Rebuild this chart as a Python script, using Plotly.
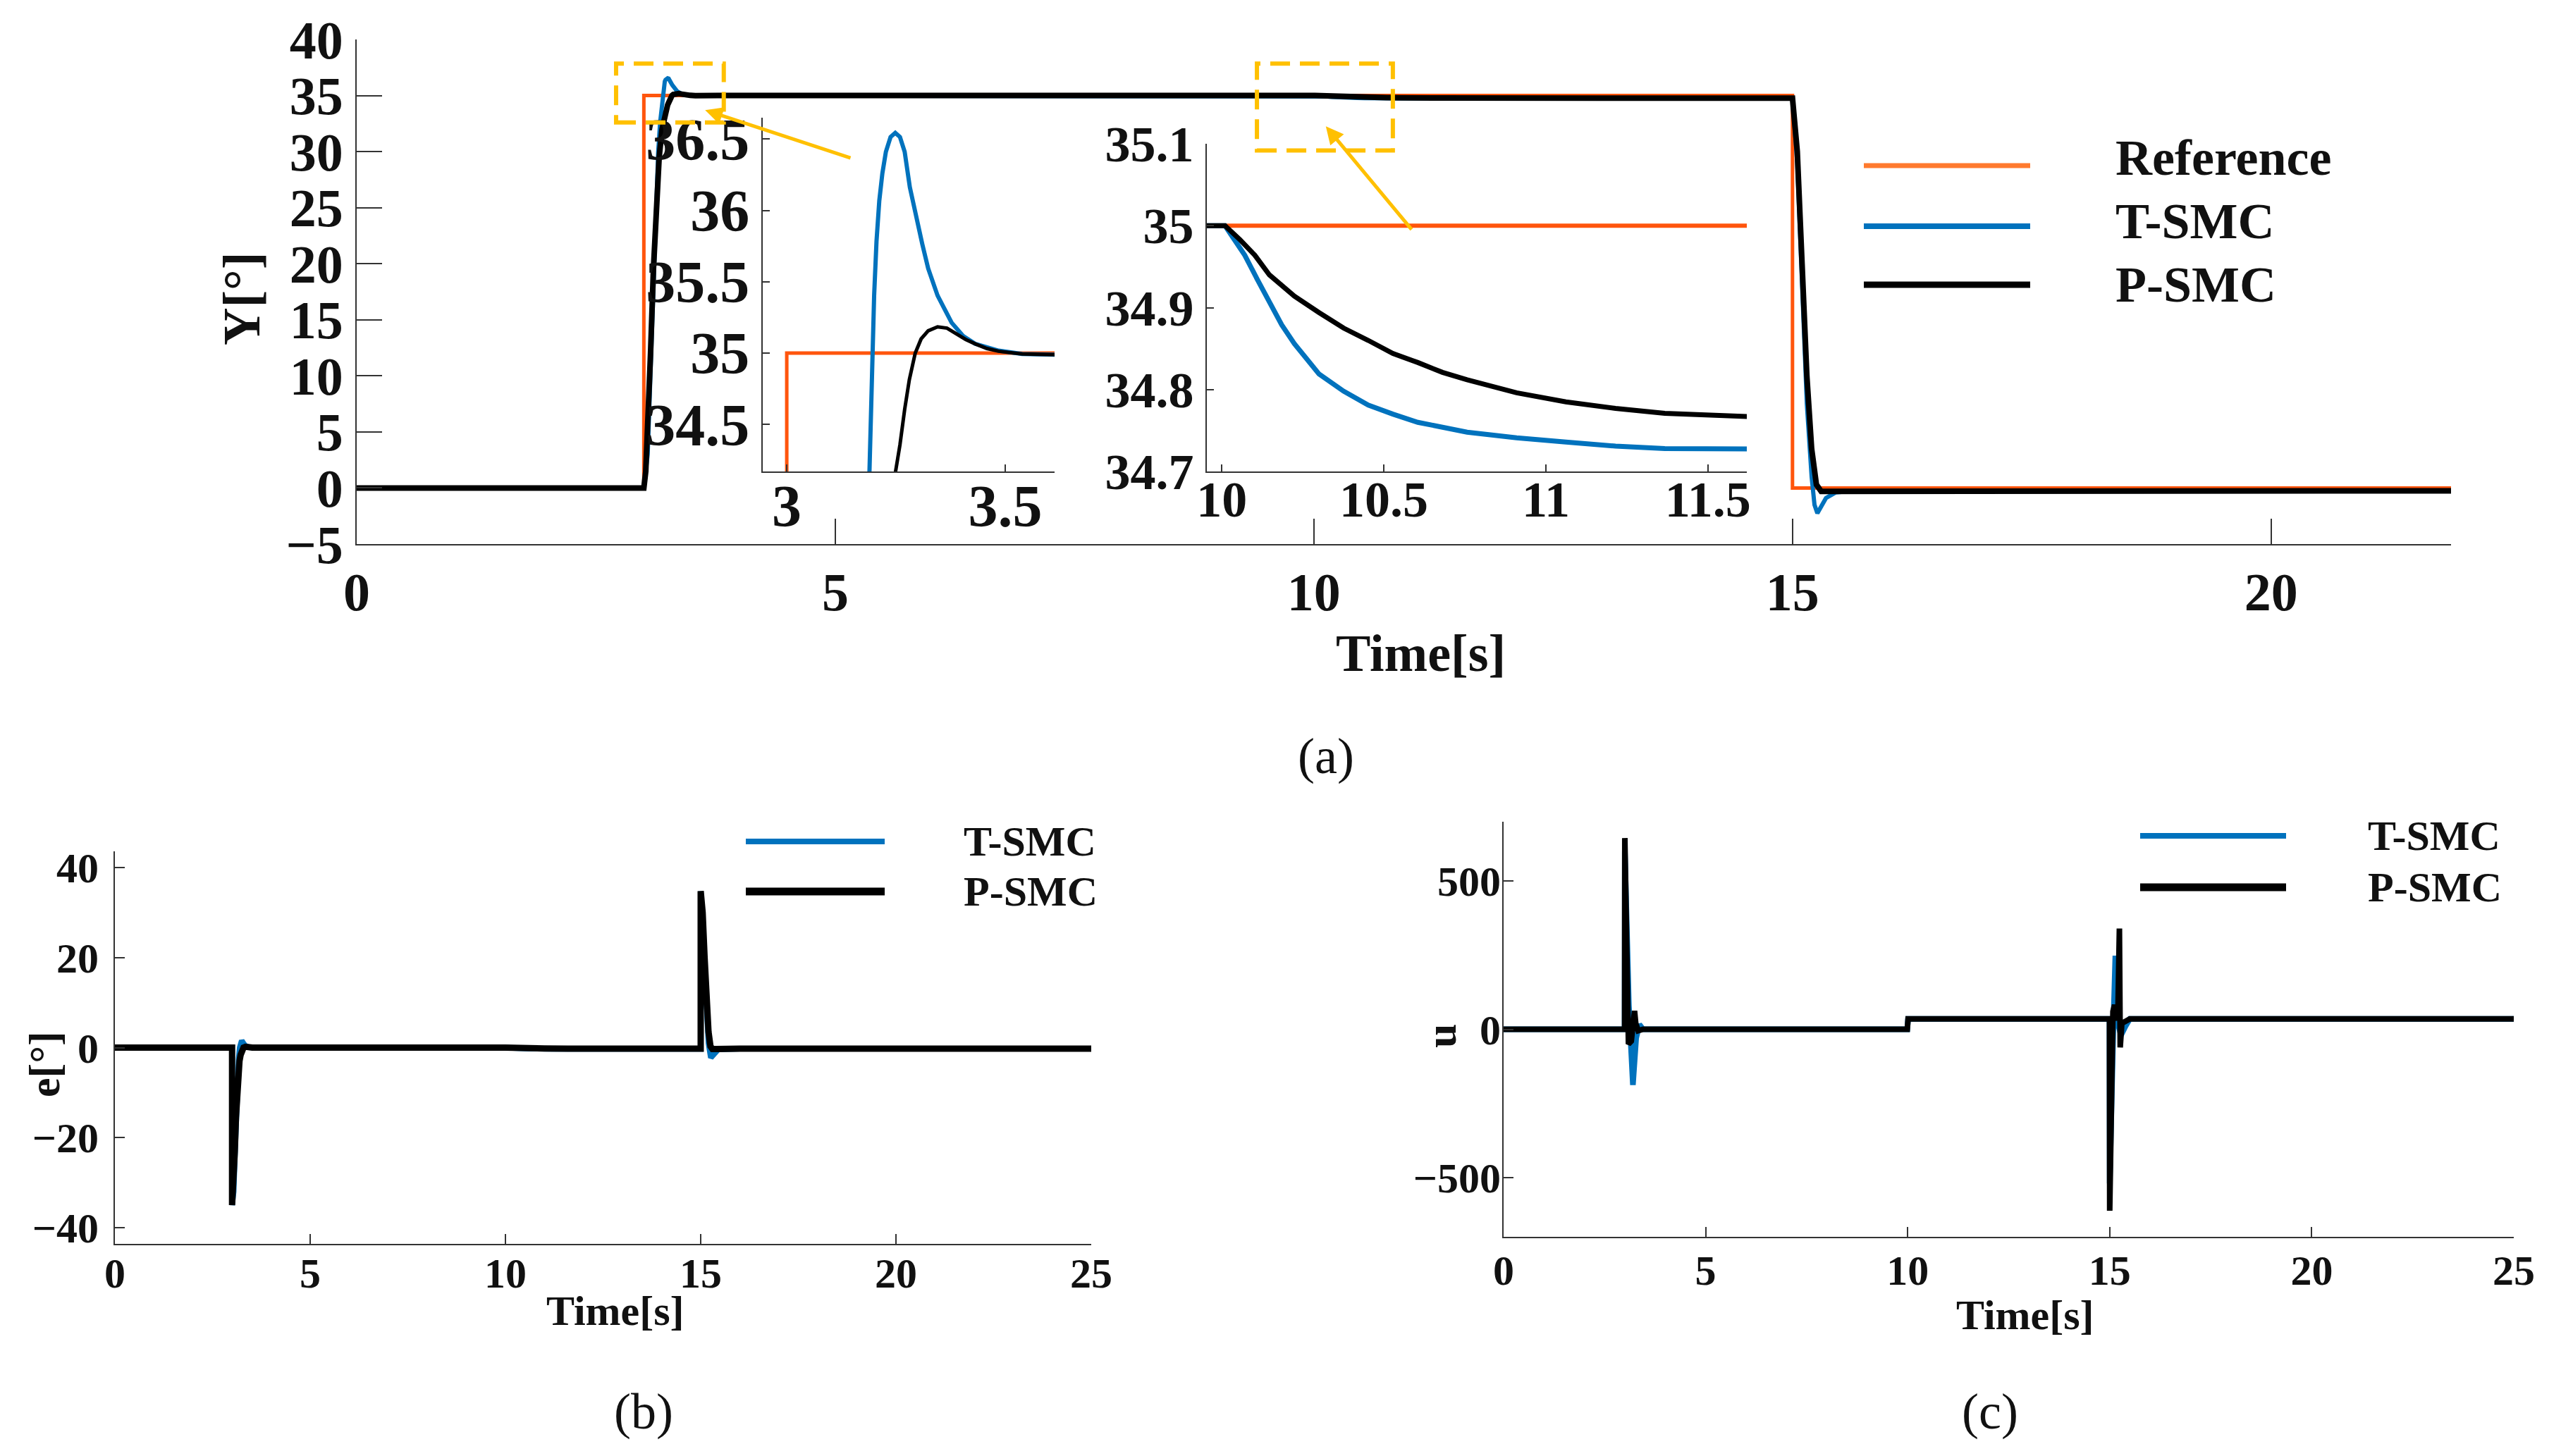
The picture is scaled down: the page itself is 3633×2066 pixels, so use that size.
import plotly.graph_objects as go

# step response Y[deg] (panel a)
t_ref = [0, 3, 3, 15, 15, 25]
y_ref = [0, 0, 35, 35, 0, 0]

t_tsmc = [0, 3.0, 3.04, 3.08, 3.12, 3.15, 3.17, 3.1892, 3.1935, 3.1962, 3.2, 3.2054, 3.2118,
          3.2188, 3.2269, 3.2376, 3.2484, 3.2591, 3.2699, 3.2817, 3.2968, 3.3102, 3.3237, 3.3452,
          3.3613, 3.3774, 3.4043, 3.4312, 3.4849, 3.5387, 3.6129, 4.0, 10.01, 10.04, 10.071,
          10.109, 10.147, 10.185, 10.224, 10.262, 10.30, 10.376, 10.452, 10.528, 10.605, 10.757,
          10.91, 11.062, 11.215, 11.367, 11.62, 13.0, 15.0, 15.05, 15.1, 15.15, 15.2, 15.23,
          15.26, 15.3, 15.35, 15.45, 15.6, 16.0, 25.0]
y_tsmc = [0, 0, 3, 13, 24, 30, 32.6, 34.158, 34.643, 35.023, 35.403, 35.783, 36.068,
          36.259, 36.411, 36.515, 36.544, 36.515, 36.411, 36.163, 35.935, 35.764, 35.593, 35.403,
          35.308, 35.213, 35.118, 35.065, 35.017, 34.994, 34.989, 35.0, 35.0, 34.983, 34.964,
          34.935, 34.906, 34.879, 34.856, 34.837, 34.819, 34.798, 34.781, 34.770, 34.760, 34.748,
          34.741, 34.736, 34.731, 34.728, 34.726, 34.72, 34.72, 29, 18, 7.5, 1.0, -1.5,
          -2.25, -1.7, -0.9, -0.4, -0.28, -0.25, -0.25]

t_psmc = [0, 3.0, 3.02, 3.04, 3.07, 3.10, 3.13, 3.16, 3.19, 3.22, 3.2484, 3.2591, 3.2699,
          3.2806, 3.2941, 3.3075, 3.3237, 3.3452, 3.3667, 3.3882, 3.4097, 3.4312, 3.4581, 3.4849,
          3.5387, 3.6129, 4.0, 10.01, 10.056, 10.102, 10.147, 10.224, 10.30, 10.376, 10.452,
          10.528, 10.605, 10.681, 10.757, 10.91, 11.062, 11.215, 11.367, 11.62, 13.0, 15.0,
          15.05, 15.1, 15.15, 15.2, 15.25, 15.3, 15.4, 16.0, 25.0]
y_psmc = [0, 0, 1.5, 5, 12, 19.5, 25.5, 29.5, 32.0, 33.4, 34.158, 34.357, 34.605,
          34.814, 35.0, 35.099, 35.156, 35.184, 35.175, 35.137, 35.095, 35.065, 35.032, 35.013,
          34.994, 34.989, 35.0, 35.0, 34.983, 34.964, 34.940, 34.914, 34.894, 34.875, 34.860,
          34.844, 34.833, 34.821, 34.812, 34.796, 34.785, 34.777, 34.771, 34.767, 34.765, 34.765,
          30, 20, 10, 3.5, 0.3, -0.3, -0.3, -0.23, -0.23]

# tracking error e[deg] (panel b)
t_e_tsmc = [0, 3.0, 3.0, 3.04, 3.08, 3.12, 3.15, 3.17, 3.197, 3.248, 3.30, 3.35, 3.43, 3.6,
            10.0, 10.15, 10.3, 10.6, 11.2, 15.0, 15.0, 15.05, 15.1, 15.15, 15.2, 15.26, 15.32,
            15.45, 16.0, 25.0]
e_tsmc = [0, 0, -35, -32, -22, -11, -5, -2.4, 0, 1.54, 0.84, 0.37, 0.08, 0,
          0, -0.09, -0.18, -0.24, -0.27, -0.28, 34.72, 29, 18, 7.5, 1.0, -2.25, -1.5,
          -0.4, -0.25, -0.25]

t_e_psmc = [0, 3.0, 3.0, 3.04, 3.07, 3.10, 3.13, 3.16, 3.19, 3.22, 3.248, 3.294, 3.345, 3.404,
            3.52, 10.0, 10.15, 10.3, 10.6, 11.0, 11.6, 15.0, 15.0, 15.05, 15.1, 15.15, 15.2,
            15.25, 15.3, 15.4, 16.0, 25.0]
e_psmc = [0, 0, -35, -30, -23, -15.5, -9.5, -5.5, -3.0, -1.6, -0.83, 0, 0.18, 0.10,
          0, 0, -0.06, -0.11, -0.17, -0.2, -0.23, -0.235, 34.765, 30, 20, 10, 3.5,
          0.3, -0.3, -0.3, -0.23, -0.23]

# control input u (panel c)
t_u_tsmc = [0, 2.995, 3.0, 3.1, 3.2, 3.28, 3.36, 3.45, 9.99, 10.01, 14.995, 15.0, 15.1, 15.14,
            15.2, 15.28, 15.39, 15.5, 25]
u_tsmc = [0, 0, 600, 80, -188, -30, 16, 0, 0, 35, 35, -520, 60, 248,
          20, -20, 10, 35, 35]

t_u_psmc = [0, 2.995, 3.0, 3.09, 3.16, 3.24, 3.27, 3.33, 3.45, 9.99, 10.01, 14.995, 15.0, 15.08,
            15.12, 15.2, 15.24, 15.26, 15.3, 15.4, 15.5, 25]
u_psmc = [0, 0, 645, -50, -40, 62, 20, -5, 0, 0, 35, 35, -612, 60,
          82, 30, 340, -61, 20, 30, 35, 35]

names = ["Reference", "T-SMC", "P-SMC"]

W, H = 3633, 2066
OFF = 8  # the page body adds an 8px margin around the figure
ORANGE = "#FF550D"
BLUE = "#0072BD"
BLACK = "#000000"
GOLD = "#FFC000"
FONT = "Liberation Serif"


def px(x):
    return (x - OFF) / W


def py(y):
    return 1 - (y - OFF) / H


fig = go.Figure()

# main plot + two zoom insets share the same data
for xa, ya, wref, wt, wp in [("x", "y", 5, 6, 8), ("x2", "y2", 5, 6, 5), ("x3", "y3", 6, 7, 7)]:
    fig.add_trace(go.Scatter(x=t_ref, y=y_ref, mode="lines", line=dict(color=ORANGE, width=wref),
                             xaxis=xa, yaxis=ya, showlegend=False))
    fig.add_trace(go.Scatter(x=t_tsmc, y=y_tsmc, mode="lines", line=dict(color=BLUE, width=wt),
                             xaxis=xa, yaxis=ya, showlegend=False))
    fig.add_trace(go.Scatter(x=t_psmc, y=y_psmc, mode="lines", line=dict(color=BLACK, width=wp),
                             xaxis=xa, yaxis=ya, showlegend=False))

fig.add_trace(go.Scatter(x=t_e_tsmc, y=e_tsmc, mode="lines", line=dict(color=BLUE, width=8),
                         xaxis="x4", yaxis="y4", showlegend=False))
fig.add_trace(go.Scatter(x=t_e_psmc, y=e_psmc, mode="lines", line=dict(color=BLACK, width=9),
                         xaxis="x4", yaxis="y4", showlegend=False))
fig.add_trace(go.Scatter(x=t_u_tsmc, y=u_tsmc, mode="lines", line=dict(color=BLUE, width=8),
                         xaxis="x5", yaxis="y5", showlegend=False))
fig.add_trace(go.Scatter(x=t_u_psmc, y=u_psmc, mode="lines", line=dict(color=BLACK, width=8),
                         xaxis="x5", yaxis="y5", showlegend=False))


def ax(domain, rng, size, ticklen, anchor, **kw):
    d = dict(domain=domain, range=rng, anchor=anchor, showline=True, linecolor="#333333",
             linewidth=2, ticks="inside", ticklen=ticklen, tickwidth=2, tickcolor="#333333",
             showgrid=False, zeroline=False, automargin=False,
             tickfont=dict(family=FONT, size=size, color="#111111", weight="bold"))
    d.update(kw)
    return d


fig.update_layout(
    width=W, height=H, margin=dict(l=0, r=0, t=0, b=0, autoexpand=False),
    paper_bgcolor="white", plot_bgcolor="rgba(0,0,0,0)",
    xaxis=ax([px(506), px(3477)], [0, 21.88], 76, 36, "y", dtick=5, ticklabelstandoff=1),
    yaxis=ax([py(772), py(56)], [-5, 40], 76, 36, "x", dtick=5, ticklabelstandoff=2),
    xaxis2=ax([px(1082), px(1496)], [2.945, 3.613], 84, 10, "y2", tickvals=[3, 3.5],
              ticklabelstandoff=-25),
    yaxis2=ax([py(669), py(167)], [34.17, 36.65], 84, 10, "x2", dtick=0.5, ticklabelstandoff=0),
    xaxis3=ax([px(1712), px(2478)], [9.954, 11.62], 72, 10, "y3", dtick=0.5,
              ticklabelstandoff=-24),
    yaxis3=ax([py(669), py(204)], [34.7, 35.1], 72, 10, "x3", dtick=0.1, ticklabelstandoff=2),
    xaxis4=ax([px(163), px(1548)], [0, 25], 60, 14, "y4", dtick=5, ticklabelstandoff=-12),
    yaxis4=ax([py(1765), py(1208)], [-43.6, 43.6], 60, 14, "x4", dtick=20, ticklabelstandoff=9),
    xaxis5=ax([px(2133), px(3566)], [0, 25], 60, 14, "y5", dtick=5, ticklabelstandoff=-6),
    yaxis5=ax([py(1755), py(1166)], [-700, 700], 60, 14, "x5", dtick=500,
              ticklabelstandoff=-10),
)

shapes = []
annotations = []


def label(x, y, text, size, bold=True, angle=0, xanchor="center"):
    annotations.append(dict(x=px(x), y=py(y), xref="paper", yref="paper", text=text,
                            showarrow=False, textangle=angle, xanchor=xanchor, yanchor="middle",
                            font=dict(family=FONT, size=size, color="#111111",
                                      weight="bold" if bold else "normal")))


def legend_entry(x0, x1, y, color, width, text, tx, ty, size):
    shapes.append(dict(type="line", xref="paper", yref="paper", x0=px(x0), x1=px(x1),
                       y0=py(y), y1=py(y), line=dict(color=color, width=width)))
    label(tx, ty, text, size, xanchor="left")


# panel (a) legend and labels
for (yy, ty, c, w), n in zip([(235, 224, "#FF7A2E", 7), (321, 314, BLUE, 8),
                              (404, 404, BLACK, 9)], names):
    legend_entry(2644, 2880, yy, c, w, n, 2999, ty, 72)
label(2016, 927, "Time[s]", 74)
label(343, 424, "Y[°]", 74, angle=-90)
label(1881, 1073, "(a)", 72, bold=False)

# panel (b)
legend_entry(1058, 1255, 1194, BLUE, 8, names[1], 1365, 1194, 60)
legend_entry(1058, 1255, 1265, BLACK, 11, names[2], 1365, 1265, 60)
label(873, 1860, "Time[s]", 60)
label(63, 1510, "e[°]", 62, angle=-90)
label(913, 2003, "(b)", 72, bold=False)

# panel (c)
legend_entry(3036, 3243, 1186, BLUE, 8, names[1], 3357, 1186, 60)
legend_entry(3036, 3243, 1259, BLACK, 11, names[2], 3357, 1259, 60)
label(2873, 1866, "Time[s]", 60)
label(2044, 1470, "u", 62, angle=-90)
label(2823, 2003, "(c)", 72, bold=False)

# zoom markers on the main axes
for x0, x1, y0, y1 in [(2.71, 3.835, 32.6, 37.85), (9.405, 10.825, 30.1, 37.85)]:
    shapes.append(dict(type="rect", xref="x", yref="y", x0=x0, x1=x1, y0=y0, y1=y1,
                       line=dict(color=GOLD, width=6, dash="28px,14px")))
for hx, hy, tx, ty in [(3.64, 33.7, 5.17, 29.4), (10.125, 32.26, 11.03, 22.96)]:
    annotations.append(dict(x=hx, y=hy, ax=tx, ay=ty, xref="x", yref="y", axref="x", ayref="y",
                            showarrow=True, arrowhead=2, arrowsize=1, arrowwidth=5,
                            arrowcolor=GOLD, text=""))

fig.update_layout(shapes=shapes, annotations=annotations)

fig.write_html("out.html")
